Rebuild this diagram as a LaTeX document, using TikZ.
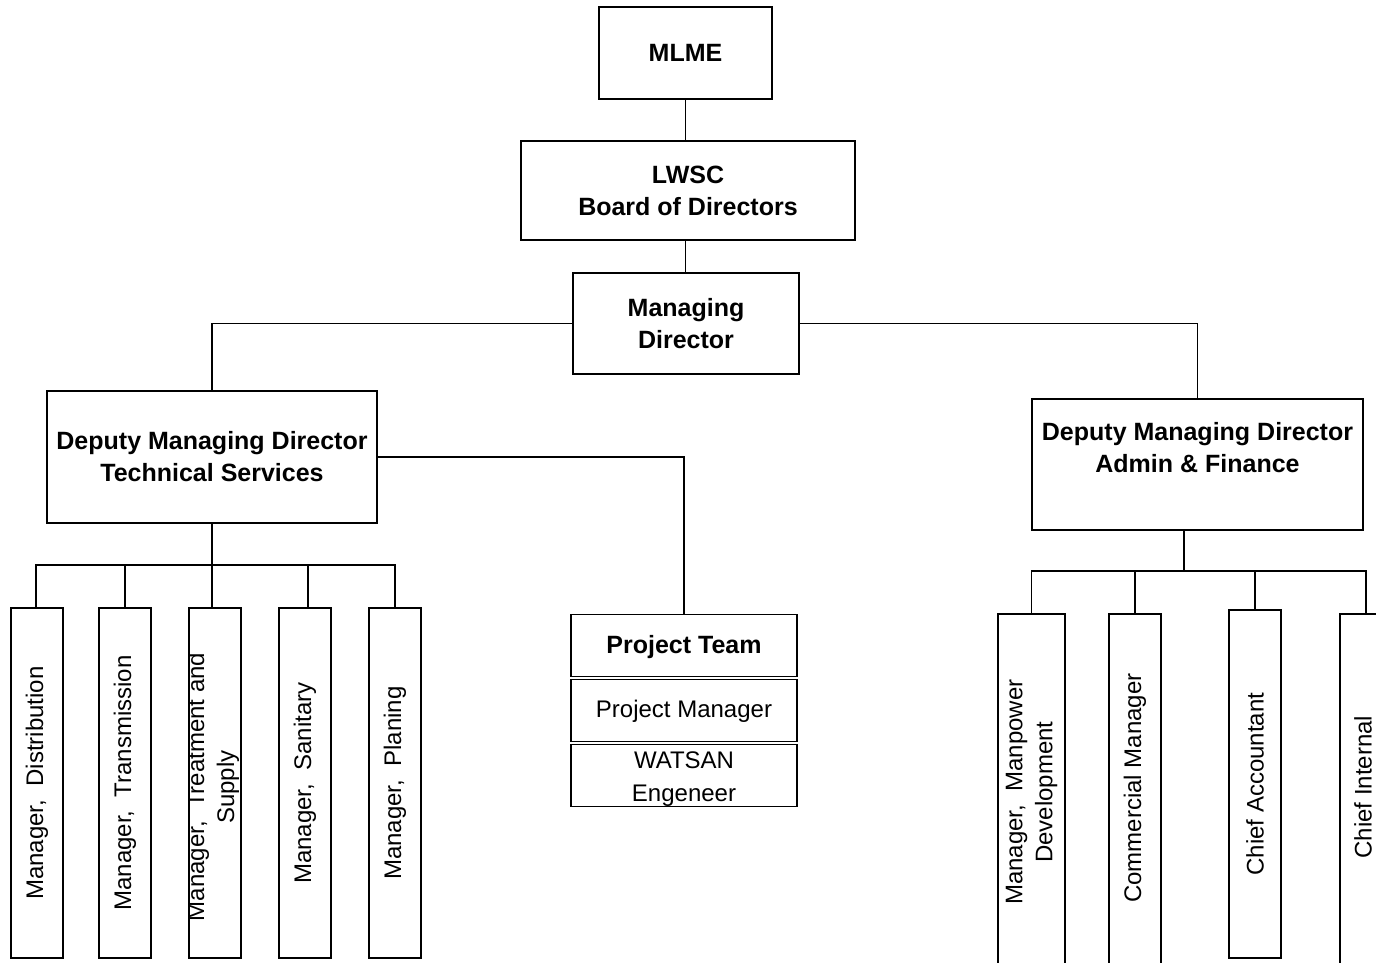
\documentclass[tikz,border=0pt]{standalone}
\usepackage{fontspec}
\setmainfont{Liberation Sans}
\begin{document}
\begin{tikzpicture}[x=1pt,y=-1pt,
  box/.style={draw,line width=1.4pt,inner sep=0pt},
  bt/.style={font=\fontsize{25}{32}\selectfont\bfseries,align=center,inner sep=0pt},
  rt/.style={font=\fontsize{24}{30}\selectfont,align=center,inner sep=0pt},
  vt/.style={font=\fontsize{24}{30}\selectfont,align=center,inner sep=0pt,rotate=90},
  ln/.style={line width=1.4pt}]
\clip (0,0) rectangle (1376,962);
\fill[white] (0,0) rectangle (1376,962);
% top chain
\node[box,minimum width=173pt,minimum height=92pt] (mlme) at (685.5,53) {};
\node[bt] (mlmeT) at (mlme.center) {MLME};
\node[box,minimum width=334pt,minimum height=99pt] (lwsc) at (688,190.5) {};
\node[bt] (lwscT) at (lwsc.center) {LWSC\\Board of Directors};
\node[box,minimum width=226pt,minimum height=101pt] (md) at (686,323.5) {};
\node[bt] (mdT) at (md.center) {Managing\\Director};
% deputies
\node[box,minimum width=330pt,minimum height=132pt] (ts) at (212,457) {};
\node[bt] (tsT) at (ts.center) {Deputy Managing Director\\Technical Services};
\node[box,minimum width=331pt,minimum height=131pt] (af) at (1197.5,464.5) {};
\node[bt] (afT) at (1197.5,448) {Deputy Managing Director\\Admin \& Finance};
% project team
\node[box,minimum width=226pt,minimum height=62pt] (pt) at (684,645.5) {};
\node[bt] (ptT) at (684,647) {Project Team};
\node[box,minimum width=226pt,minimum height=62pt] (pm) at (684,710.5) {};
\node[rt] (pmT) at (684,711) {Project Manager};
\node[box,minimum width=226pt,minimum height=62pt] (ws) at (684,775.5) {};
\node[rt,font=\fontsize{24}{33}\selectfont] (wsT) at (684,779) {WATSAN\\Engeneer};
% left managers
\node[box,minimum width=52pt,minimum height=350pt] (m1) at (37,783) {};
\node[vt] (m1T) at (m1.center) {Manager,\ \ Distribution};
\node[box,minimum width=52pt,minimum height=350pt] (m2) at (125,783) {};
\node[vt] (m2T) at (m2.center) {Manager,\ \ Transmission};
\node[box,minimum width=52pt,minimum height=350pt] (m3) at (215,783) {};
\begin{scope}
\clip (m3.south west) rectangle (m3.north east);
\node[vt] (m3T) at (213,787) {Manager,\ \ Treatment and\\Supply};
\end{scope}
\node[box,minimum width=52pt,minimum height=350pt] (m4) at (305,783) {};
\node[vt] (m4T) at (m4.center) {Manager,\ \ Sanitary};
\node[box,minimum width=52pt,minimum height=350pt] (m5) at (395,783) {};
\node[vt] (m5T) at (m5.center) {Manager,\ \ Planing};
% right managers
\node[box,minimum width=67pt,minimum height=354pt] (r1) at (1031.5,791) {};
\node[vt] (r1T) at (1031.5,792) {Manager,\ \ Manpower\\Development};
\node[box,minimum width=52pt,minimum height=354pt] (r2) at (1135,791) {};
\node[vt] (r2T) at (1135,788) {Commercial Manager};
\node[box,minimum width=52pt,minimum height=348pt] (r3) at (1255,784) {};
\node[vt] (r3T) at (r3.center) {Chief Accountant};
\node[box,minimum width=52pt,minimum height=354pt] (r4) at (1366,791) {};
\node[vt] (r4T) at (1363,787) {Chief Internal};
% connectors
\coordinate (tsbus) at (212,565);
\coordinate (afbus) at (1184,571);
\draw[ln] (mlme.south) -- (mlme.south |- lwsc.north);
\draw[ln] (lwsc.south -| mlme.south) -- (md.north -| mlme.south);
\draw[ln] (md.west) -- (ts.north |- md.west) -- (ts.north);
\draw[ln] (md.east) -- (af.north |- md.east) -- (af.north);
\draw[ln] (ts.east) -- (pt.north |- ts.east) -- (pt.north);
\draw[ln] (ts.south) -- (tsbus);
\draw[ln] (m1.north -| 36,0) |- (tsbus) -| (m5.north);
\draw[ln] (m2.north) -- (m2.north |- tsbus);
\draw[ln] (tsbus) -- (tsbus |- m3.north);
\draw[ln] (m4.north -| 308,0) -- (308,565);
\draw[ln] (afbus |- af.south) -- (afbus);
\draw[ln] (r1.north) |- (afbus) -| (r4.north);
\draw[ln] (r2.north) -- (r2.north |- afbus);
\draw[ln] (r3.north) -- (r3.north |- afbus);
\end{tikzpicture}
\end{document}
